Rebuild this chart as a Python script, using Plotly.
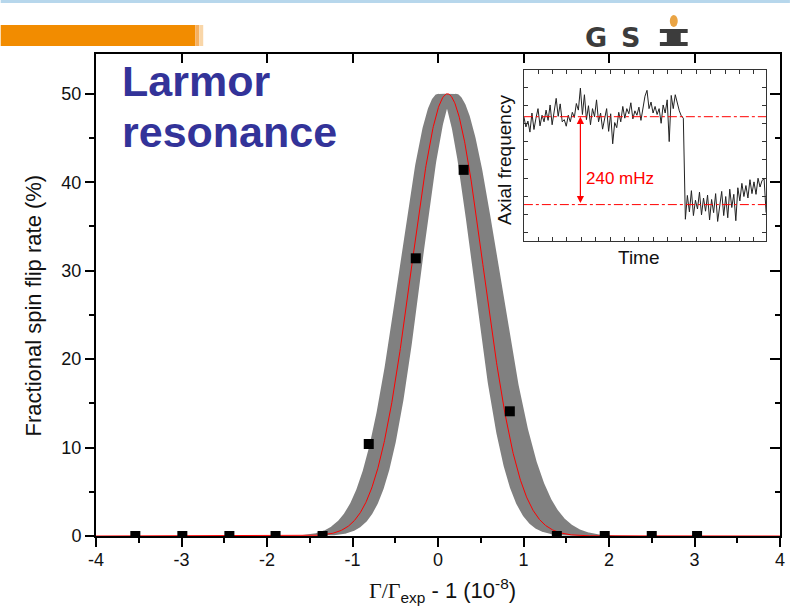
import numpy as np
import plotly.graph_objects as go

# ---------------- data ----------------
# measured points (Gamma/Gamma_exp - 1 in 1e-8, spin flip rate in %)
point_x = [-3.54, -2.99, -2.44, -1.90, -1.35, -0.81, -0.26, 0.30, 0.84, 1.39, 1.95, 2.50, 3.03]
point_y = [0, 0, 0, 0, 0, 10.4, 31.4, 41.4, 14.1, 0, 0, 0, 0]

# Gaussian fit (red line) parameters
fit_amp = 50.0
fit_center = 0.11
fit_sigma = 0.42
# uncertainty band (family of fits)
band_center_lo, band_center_hi = 0.0, 0.21
band_sigma_left = (0.40, 0.45)
band_sigma_right = (0.40, 0.50)

x_tickvals = [-4, -3, -2, -1, 0, 1, 2, 3, 4]
x_ticktext = ["-4", "-3", "-2", "-1", "0", "1", "2", "3", "4"]
y_tickvals = [0, 10, 20, 30, 40, 50]

# inset: axial frequency trace (mHz relative to lower level)
inset_upper = [
    240, 212, 228, 198, 250, 205, 236, 262, 215, 244,
    226, 258, 230, 272, 218, 249, 290, 241, 275, 226,
    232, 214, 244, 226, 252, 238, 276, 258, 318, 246,
    300, 232, 270, 218, 262, 240, 286, 226, 250, 206,
    236, 262, 200, 248, 166, 224, 210, 252, 226, 268,
    236, 262, 248, 278, 234, 256, 244, 266, 230, 258,
    296, 312, 262, 280, 250, 268, 246, 262, 222, 272,
    250, 286, 172, 298, 262, 300, 276, 256, 242, 236,
]
inset_lower = [
    -40, 25, -20, 38, -30, 12, -12, 34, -28, 18,
    -18, 26, -42, 14, -22, 30, -46, 4, 36, -30,
    22, -36, 42, -8, 28, -44, 46, 10, 58, 22,
    52, 18, 68, 30, 62, 28, 72, 48, 66, 70, -22,
]
inset_values = inset_upper + inset_lower
inset_time = list(range(len(inset_values)))
level_high = 240
level_low = 0

# ---------------- geometry helpers (pixel -> paper) ----------------
PL, PR, PT, PB = 96, 785, 54, 536
def px_x(p):
    return (p - PL) / (PR - PL)
def px_y(p):
    return (PB - p) / (PB - PT)

# ---------------- curves ----------------
xs = np.linspace(-4, 4, 1601)
fit_y = fit_amp * np.exp(-(xs - fit_center) ** 2 / (2 * fit_sigma ** 2))

curves = []
for c in np.linspace(band_center_lo, band_center_hi, 9):
    for sl in np.linspace(*band_sigma_left, 5):
        for sr in np.linspace(*band_sigma_right, 5):
            s = np.where(xs < c, sl, sr)
            curves.append(fit_amp * np.exp(-(xs - c) ** 2 / (2 * s ** 2)))
curves = np.array(curves)
band_hi = curves.max(axis=0)
band_lo = curves.min(axis=0)

FONT = "Liberation Sans, Arial, sans-serif"
fig = go.Figure()

fig.add_trace(go.Scatter(x=xs, y=band_lo, mode="lines", line=dict(width=0, color="rgba(0,0,0,0)"),
                         hoverinfo="skip", showlegend=False))
fig.add_trace(go.Scatter(x=xs, y=band_hi, mode="lines", line=dict(width=0, color="rgba(0,0,0,0)"),
                         fill="tonexty", fillcolor="rgb(128,128,128)", hoverinfo="skip", showlegend=False))
fig.add_trace(go.Scatter(x=xs, y=fit_y, mode="lines", line=dict(width=1, color="red"),
                         showlegend=False))
fig.add_trace(go.Scatter(x=point_x, y=point_y, mode="markers",
                         marker=dict(symbol="square", size=10, color="black"), showlegend=False))
# dummy trace for mirrored axes
fig.add_trace(go.Scatter(x=[None], y=[None], xaxis="x2", yaxis="y2", showlegend=False, hoverinfo="skip"))

# inset trace
fig.add_trace(go.Scatter(x=inset_time, y=inset_values, xaxis="x3", yaxis="y3", mode="lines",
                         line=dict(width=1, color="#222222"), showlegend=False))

axis_common = dict(showgrid=False, zeroline=False, showline=True, linecolor="black", linewidth=2,
                   tickcolor="black", tickwidth=2)

fig.update_layout(
    width=795, height=611,
    margin=dict(l=PL, r=795 - PR, t=PT, b=611 - PB),
    paper_bgcolor="white", plot_bgcolor="white",
    font=dict(family=FONT, size=18, color="black"),
    xaxis=dict(range=[-4, 4], tickvals=x_tickvals, ticktext=x_ticktext, ticks="outside", ticklen=9,
               ticklabelstandoff=-3,
               minor=dict(dtick=0.5, tick0=0, ticks="outside", ticklen=5, tickwidth=2, tickcolor="black"),
               tickfont=dict(size=18, color="#111"), **axis_common),
    yaxis=dict(range=[0, 54.5], tickvals=y_tickvals, ticks="outside", ticklen=9,
               minor=dict(dtick=5, tick0=0, ticks="outside", ticklen=5, tickwidth=2, tickcolor="black"),
               tickfont=dict(size=18, color="#111"), **axis_common),
    xaxis2=dict(range=[-4, 4], overlaying="x", side="top", anchor="y2", tickvals=x_tickvals,
                ticks="inside", ticklen=9, showticklabels=False, **axis_common),
    yaxis2=dict(range=[0, 54.5], overlaying="y", side="right", anchor="x2", tickvals=y_tickvals,
                ticks="inside", ticklen=10, showticklabels=False,
                minor=dict(dtick=5, tick0=0, ticks="inside", ticklen=5, tickwidth=2, tickcolor="black"),
                **axis_common),
    xaxis3=dict(domain=[px_x(527), px_x(771)], anchor="y3", range=[0, 120], tick0=0, dtick=7.12,
                ticks="inside", ticklen=4, tickwidth=1, tickcolor="#333", showticklabels=False,
                showgrid=False, zeroline=False, showline=True, mirror="ticks", linecolor="#333", linewidth=1),
    yaxis3=dict(domain=[px_y(241), px_y(70)], anchor="x3", range=[-99.4, 367.5], tick0=-76.5, dtick=49.6,
                ticks="inside", ticklen=4, tickwidth=1, tickcolor="#333", showticklabels=False,
                showgrid=False, zeroline=False, showline=True, mirror="ticks", linecolor="#333", linewidth=1),
    showlegend=False,
)

def rect(x0, x1, y0, y1, color, layer="above"):
    return dict(type="rect", xref="paper", yref="paper", x0=px_x(x0), x1=px_x(x1), y0=px_y(y1), y1=px_y(y0),
                fillcolor=color, line=dict(width=0), layer=layer)

LOGO = "#3c3c3c"
shapes = [
    # inset background
    rect(527, 771, 70, 241, "white", layer="below"),
    # inset level lines
    dict(type="line", xref="x3", yref="y3", x0=0, x1=120, y0=level_high, y1=level_high,
         line=dict(color="red", width=1, dash="dashdot")),
    dict(type="line", xref="x3", yref="y3", x0=0, x1=120, y0=level_low, y1=level_low,
         line=dict(color="red", width=1, dash="dashdot")),
    # slide decorations: top light blue line, orange bar
    rect(0, 795, 0, 3, "#b7d7ec"),
    rect(0, 196, 25, 46, "#f28c00"),
    rect(196, 200, 25, 46, "#f5b060"),
    rect(200, 204, 25, 46, "#f9d6a8"),
    # GSI logo "I" drawn as block letter and its dot
    rect(664, 692, 29, 33, LOGO),
    rect(664, 692, 42, 46, LOGO),
    rect(671, 685, 29, 46, LOGO),
    dict(type="circle", xref="paper", yref="paper", x0=px_x(674), x1=px_x(682), y0=px_y(27), y1=px_y(15),
         fillcolor="#eaa444", line=dict(width=0)),
]
fig.update_layout(shapes=shapes)

def note(text, px, py, size, color="#111", family=FONT, angle=0, xanchor="center", yanchor="middle", **kw):
    return dict(text=text, xref="paper", yref="paper", x=px_x(px), y=px_y(py), xanchor=xanchor,
                yanchor=yanchor, textangle=angle, showarrow=False,
                font=dict(family=family, size=size, color=color, **kw))

ann = [
    note("Larmor", 120, 81, 43, color="#333399", xanchor="left", weight="bold"),
    note("resonance", 120, 132, 43, color="#333399", xanchor="left", weight="bold"),
    note("Fractional spin flip rate (%)", 33, 305, 22, angle=-90),
    note("<span style='font-family:Liberation Serif'>Γ/Γ</span><sub>exp</sub> - 1 (10<sup>-8</sup>)",
         445, 590, 22),
    note("Axial frequency", 507, 160, 19, angle=-90),
    note("Time", 643, 257, 19),
    dict(text="240 mHz", xref="x3", yref="y3", x=30, y=(level_high + level_low) * 0.3,
         xanchor="left", yanchor="middle", showarrow=False, font=dict(family=FONT, size=17, color="red")),
    dict(text="", xref="x3", yref="y3", x=28, y=level_high, ax=28, ay=level_low, axref="x3", ayref="y3",
         showarrow=True, arrowhead=2, startarrowhead=2, arrowside="end+start", arrowsize=1.2,
         arrowwidth=1.2, arrowcolor="red", standoff=0, startstandoff=0),
    # GSI logo letters
    note("<b>G</b>", 600, 38, 27, color=LOGO, family="DejaVu Sans"),
    note("<b>S</b>", 634, 38, 27, color=LOGO, family="DejaVu Sans"),
]
fig.update_layout(annotations=ann)

fig.write_html("out.html", post_script="document.body.style.margin='0';",
               config={"displayModeBar": False})
